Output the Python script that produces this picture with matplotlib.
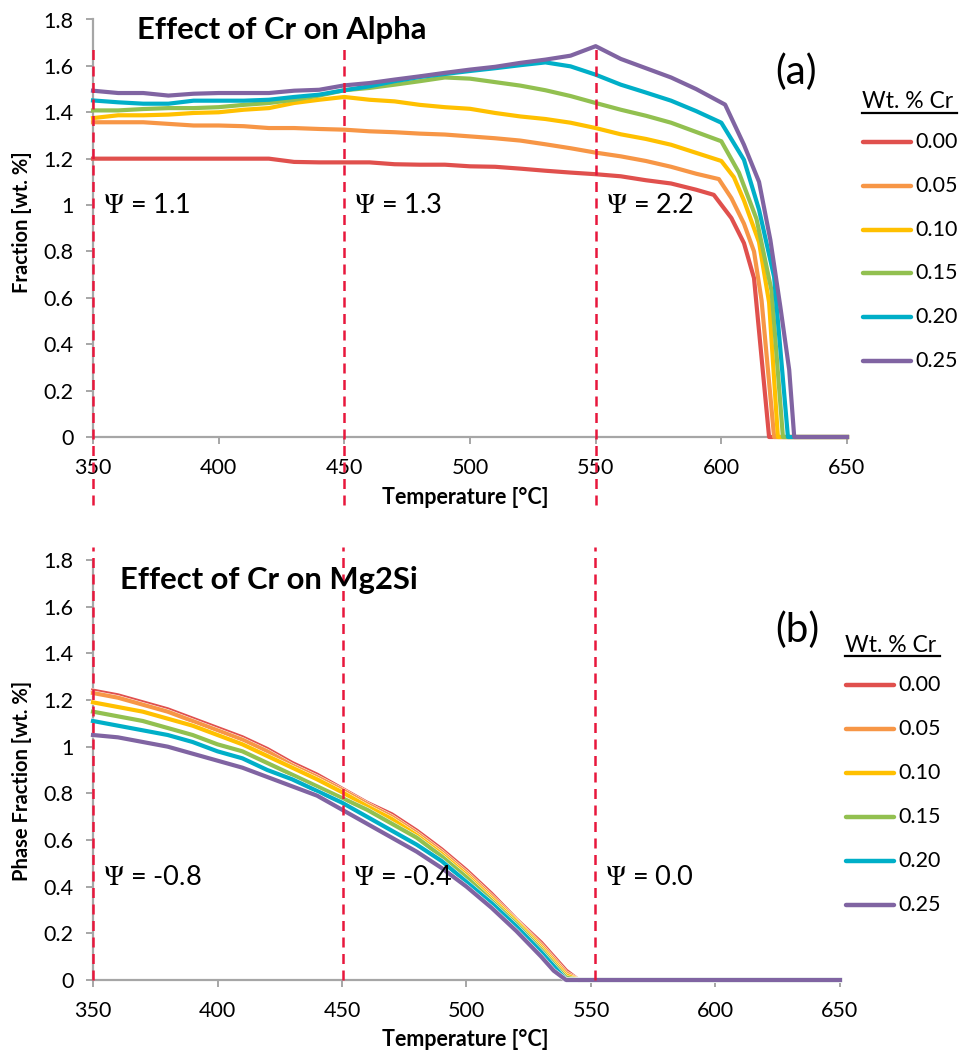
import matplotlib
matplotlib.use("Agg")
import matplotlib.pyplot as plt
from matplotlib.lines import Line2D
import matplotlib.patheffects as pe

plt.rcParams["font.family"] = ["Lato", "DejaVu Sans"]
plt.rcParams["mathtext.fontset"] = "stix"

# ---------------- data ----------------
cr_levels = ["0.00", "0.05", "0.10", "0.15", "0.20", "0.25"]
series_colors = ["#E0504D", "#F79646", "#FFC000", "#92C050", "#00AFC8", "#8064A2"]

# Alpha phase: common part of the curves (350-590 C)
alpha_temp = [350, 360, 370, 380, 390, 400, 410, 420, 430, 440, 450, 460, 470,
              480, 490, 500, 510, 520, 530, 540, 550, 560, 570, 580, 590]
alpha_cr000 = [1.200, 1.200, 1.200, 1.200, 1.200, 1.200, 1.200, 1.200, 1.186, 1.184,
               1.184, 1.184, 1.176, 1.174, 1.174, 1.167, 1.165, 1.157, 1.148, 1.140,
               1.133, 1.124, 1.107, 1.093, 1.066]
alpha_cr005 = [1.357, 1.357, 1.357, 1.350, 1.343, 1.343, 1.340, 1.332, 1.332, 1.328,
               1.325, 1.318, 1.314, 1.308, 1.304, 1.296, 1.288, 1.278, 1.262, 1.245,
               1.226, 1.210, 1.190, 1.165, 1.135]
alpha_cr010 = [1.375, 1.387, 1.387, 1.390, 1.397, 1.400, 1.411, 1.418, 1.440, 1.454,
               1.466, 1.454, 1.447, 1.432, 1.422, 1.415, 1.397, 1.382, 1.371, 1.355,
               1.332, 1.305, 1.285, 1.260, 1.225]
alpha_cr015 = [1.408, 1.408, 1.414, 1.418, 1.418, 1.422, 1.432, 1.440, 1.454, 1.472,
               1.495, 1.505, 1.519, 1.534, 1.550, 1.545, 1.530, 1.515, 1.495, 1.470,
               1.440, 1.411, 1.385, 1.355, 1.315]
alpha_cr020 = [1.451, 1.443, 1.437, 1.437, 1.450, 1.450, 1.450, 1.454, 1.466, 1.476,
               1.495, 1.512, 1.534, 1.552, 1.565, 1.578, 1.590, 1.603, 1.615, 1.598,
               1.562, 1.519, 1.485, 1.450, 1.405]
alpha_cr025 = [1.493, 1.483, 1.483, 1.472, 1.480, 1.483, 1.483, 1.483, 1.493, 1.497,
               1.516, 1.526, 1.541, 1.555, 1.570, 1.584, 1.596, 1.613, 1.627, 1.644,
               1.685, 1.630, 1.590, 1.550, 1.500]

# Alpha phase: dissolution tails (each alloy dissolves at its own temperature)
tail_temp_cr000 = [597, 604, 609, 613, 619, 650]
tail_cr000 = [1.044, 0.944, 0.836, 0.685, 0.0, 0.0]
tail_temp_cr005 = [599, 604, 609, 613, 616, 621, 650]
tail_cr005 = [1.112, 1.03, 0.92, 0.80, 0.59, 0.0, 0.0]
tail_temp_cr010 = [600, 605, 609, 615, 619, 622.5, 650]
tail_cr010 = [1.19, 1.12, 1.02, 0.84, 0.58, 0.0, 0.0]
tail_temp_cr015 = [600, 607, 614, 620, 624.5, 650]
tail_cr015 = [1.275, 1.14, 0.94, 0.63, 0.0, 0.0]
tail_temp_cr020 = [600, 609, 615, 621, 626.5, 650]
tail_cr020 = [1.355, 1.195, 0.98, 0.69, 0.0, 0.0]
tail_temp_cr025 = [601.5, 609, 615, 619.5, 623.5, 627, 629, 650]
tail_cr025 = [1.433, 1.26, 1.10, 0.85, 0.56, 0.29, 0.0, 0.0]

# Mg2Si phase
mg2si_temp = [350, 360, 370, 380, 390, 400, 410, 420, 430, 440, 450, 460, 470, 480,
              490, 500, 510, 520, 530, 535, 540, 545, 650]
mg2si_cr000 = [1.24, 1.22, 1.19, 1.16, 1.12, 1.08, 1.04, 0.99, 0.93, 0.88, 0.82, 0.76,
               0.71, 0.64, 0.56, 0.47, 0.37, 0.26, 0.16, 0.10, 0.04, 0.0, 0.0]
mg2si_cr005 = [1.23, 1.21, 1.18, 1.15, 1.11, 1.07, 1.03, 0.98, 0.92, 0.87, 0.815, 0.755,
               0.70, 0.63, 0.55, 0.46, 0.36, 0.255, 0.15, 0.09, 0.03, 0.0, 0.0]
mg2si_cr010 = [1.19, 1.17, 1.15, 1.12, 1.09, 1.05, 1.01, 0.96, 0.91, 0.86, 0.805, 0.745,
               0.69, 0.62, 0.54, 0.45, 0.35, 0.25, 0.14, 0.08, 0.02, 0.0, 0.0]
mg2si_cr015 = [1.15, 1.13, 1.11, 1.08, 1.05, 1.01, 0.98, 0.93, 0.88, 0.83, 0.78, 0.73,
               0.67, 0.61, 0.53, 0.44, 0.34, 0.24, 0.13, 0.07, 0.01, 0.0, 0.0]
mg2si_cr020 = [1.11, 1.09, 1.07, 1.05, 1.02, 0.98, 0.95, 0.90, 0.86, 0.81, 0.76, 0.70,
               0.64, 0.58, 0.51, 0.42, 0.33, 0.23, 0.12, 0.06, 0.0, 0.0, 0.0]
mg2si_cr025 = [1.05, 1.04, 1.02, 1.00, 0.97, 0.94, 0.91, 0.87, 0.83, 0.79, 0.73, 0.67,
               0.61, 0.55, 0.48, 0.40, 0.31, 0.21, 0.10, 0.04, 0.0, 0.0, 0.0]

# Reference temperatures and partition coefficients
psi_temp_alpha = [350, 450, 550]
psi_temp_mg2si = [350, 450.6, 551.6]
psi_alpha = ["1.1", "1.3", "2.2"]
psi_mg2si = ["-0.8", "-0.4", "0.0"]

x_ticks = [350, 400, 450, 500, 550, 600, 650]
y_ticks = [0, 0.2, 0.4, 0.6, 0.8, 1.0, 1.2, 1.4, 1.6, 1.8]
y_ticklabels = ["0", "0.2", "0.4", "0.6", "0.8", "1", "1.2", "1.4", "1.6", "1.8"]

# ---------------- figure ----------------
W, H = 962, 1057
fig = plt.figure(figsize=(W / 100, H / 100), dpi=100)
fig.patch.set_facecolor("white")


def axes_px(left, top, right, bottom):
    return fig.add_axes([left / W, 1 - bottom / H, (right - left) / W, (bottom - top) / H])


GRAY = "#A6A6A6"
DASH_RED = "#E8173C"


def style_axes(ax):
    ax.set_xlim(350, 650)
    ax.set_ylim(0, 1.8)
    for side in ("top", "right"):
        ax.spines[side].set_visible(False)
    for side in ("left", "bottom"):
        ax.spines[side].set_color(GRAY)
        ax.spines[side].set_linewidth(1.6)
    ax.set_xticks(x_ticks)
    ax.set_yticks(y_ticks)
    ax.set_yticklabels(y_ticklabels)
    ax.tick_params(direction="out", length=5, width=1.4, color=GRAY,
                   labelsize=15.5, labelcolor="black")
    ax.tick_params(axis="y", pad=9)
    ax.tick_params(axis="x", pad=10)
    ax.set_facecolor("none")


ax1 = axes_px(93, 19.5, 847, 437)
ax2 = axes_px(93, 560, 840, 980)
style_axes(ax1)
style_axes(ax2)

alpha_series = [
    (alpha_cr000, tail_temp_cr000, tail_cr000),
    (alpha_cr005, tail_temp_cr005, tail_cr005),
    (alpha_cr010, tail_temp_cr010, tail_cr010),
    (alpha_cr015, tail_temp_cr015, tail_cr015),
    (alpha_cr020, tail_temp_cr020, tail_cr020),
    (alpha_cr025, tail_temp_cr025, tail_cr025),
]
for (body, ttemp, tval), color in zip(alpha_series, series_colors):
    ax1.plot(alpha_temp + ttemp, body + tval, color=color, lw=3.0,
             solid_joinstyle="round", clip_on=False, zorder=3)

mg2si_series = [mg2si_cr000, mg2si_cr005, mg2si_cr010,
                mg2si_cr015, mg2si_cr020, mg2si_cr025]
for vals, color in zip(mg2si_series, series_colors):
    ax2.plot(mg2si_temp, vals, color=color, lw=3.0, solid_joinstyle="round",
             clip_on=False, zorder=3,
             path_effects=[pe.Stroke(linewidth=3.6, foreground="white"), pe.Normal()])

# dashed reference lines and partition coefficient labels
for t, psi in zip(psi_temp_alpha, psi_alpha):
    ax1.axvline(t, ymin=-0.163, ymax=0.938, color=DASH_RED, lw=1.8,
                ls=(0, (4, 2.6)), clip_on=False, zorder=5)
    ax1.text(t + 4, 1.0, r"$\Psi$ = " + psi, fontsize=19.5, va="center", ha="left")
for t, psi in zip(psi_temp_mg2si, psi_mg2si):
    ax2.axvline(t, ymin=0.0, ymax=1.03, color=DASH_RED, lw=1.8,
                ls=(0, (4, 2.6)), clip_on=False, zorder=5)
    ax2.text(t + 4, 0.44, r"$\Psi$ = " + psi, fontsize=19.5, va="center", ha="left")

# ---------------- overlay: titles, labels, legends ----------------
ov = fig.add_axes([0, 0, 1, 1], zorder=10)
ov.set_xlim(0, W)
ov.set_ylim(H, 0)
ov.axis("off")

ov.text(137, 30, "Effect of Cr on Alpha", fontsize=22.3, fontweight="bold",
        ha="left", va="center")
ov.text(120, 580, "Effect of Cr on Mg2Si", fontsize=22.3, fontweight="bold",
        ha="left", va="center")
ov.text(775, 72, "(a)", fontsize=29, ha="left", va="center")
ov.text(775, 630, "(b)", fontsize=29, ha="left", va="center")

ov.text(22, 222, "Fraction [wt. %]", fontsize=14.5, fontweight="bold",
        rotation=90, ha="center", va="center")
ov.text(22, 781, "Phase Fraction [wt. %]", fontsize=14.5, fontweight="bold",
        rotation=90, ha="center", va="center")
ov.text(465, 497, "Temperature [\u00b0C]", fontsize=15.5, fontweight="bold",
        ha="center", va="center")
ov.text(465, 1040, "Temperature [\u00b0C]", fontsize=15.5, fontweight="bold",
        ha="center", va="center")


def draw_legend(x_line, title_y, first_y, step):
    ov.text(x_line, title_y, "Wt. % Cr", fontsize=16.5, ha="left", va="center")
    ov.add_line(Line2D([x_line, x_line + 95], [title_y + 11, title_y + 11],
                       color="black", lw=1.6))
    for i, (lab, color) in enumerate(zip(cr_levels, series_colors)):
        yy = first_y + i * step
        ov.add_line(Line2D([x_line + 1, x_line + 49], [yy, yy], color=color, lw=3.2,
                           solid_capstyle="round"))
        ov.text(x_line + 53, yy, lab, fontsize=15.5, ha="left", va="center")


draw_legend(862, 102, 142, 43.8)
draw_legend(845, 645, 685, 44.0)

fig.savefig("out.png", dpi=100, facecolor="white")
